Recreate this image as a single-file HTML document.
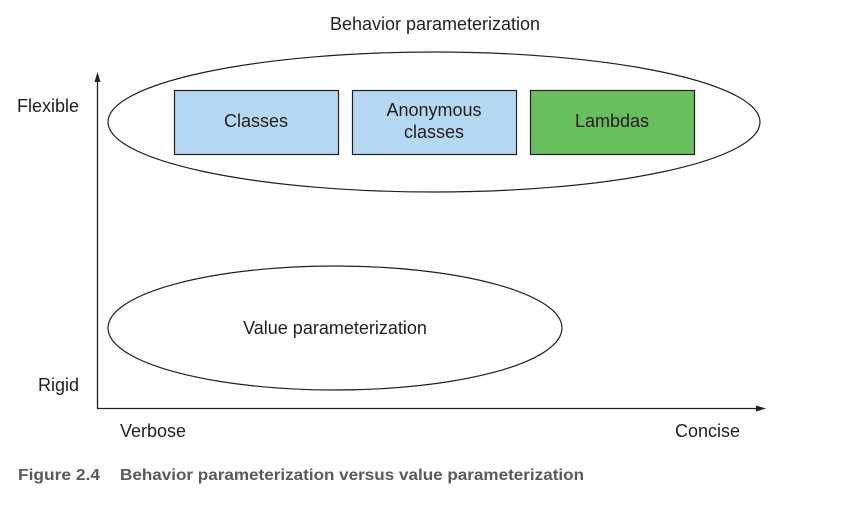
<!DOCTYPE html>
<html><head><meta charset="utf-8"><style>
html,body{margin:0;padding:0;background:#fff;}
svg{display:block;}
text{font-family:"Liberation Sans",sans-serif;fill:#231f20;}
</style></head><body>
<svg width="841" height="506" viewBox="0 0 841 506" xmlns="http://www.w3.org/2000/svg">
<text x="435" y="30" font-size="18" text-anchor="middle">Behavior parameterization</text>
<ellipse cx="434" cy="122" rx="326" ry="70" fill="none" stroke="#231f20" stroke-width="1.2"/>
<rect x="174.5" y="90.5" width="164" height="64" fill="#b4d8f1" stroke="#231f20" stroke-width="1.2"/>
<rect x="352.5" y="90.5" width="164" height="64" fill="#b4d8f1" stroke="#231f20" stroke-width="1.2"/>
<rect x="530.5" y="90.5" width="164" height="64" fill="#69bf5e" stroke="#231f20" stroke-width="1.2"/>
<text x="256" y="127" font-size="18" text-anchor="middle">Classes</text>
<text x="434" y="116" font-size="18" text-anchor="middle">Anonymous</text>
<text x="434" y="138" font-size="18" text-anchor="middle">classes</text>
<text x="612" y="127" font-size="18" text-anchor="middle">Lambdas</text>
<ellipse cx="335" cy="328" rx="227" ry="62" fill="none" stroke="#231f20" stroke-width="1.2"/>
<text x="335" y="334" font-size="18" text-anchor="middle">Value parameterization</text>
<line x1="97.5" y1="408.5" x2="97.5" y2="80" stroke="#231f20" stroke-width="1.3"/>
<polygon points="97.5,72 94.5,82 100.5,82" fill="#231f20"/>
<line x1="97" y1="408.5" x2="758" y2="408.5" stroke="#231f20" stroke-width="1.3"/>
<polygon points="766,408.5 756,405.5 756,411.5" fill="#231f20"/>
<text x="17" y="112" font-size="18">Flexible</text>
<text x="38" y="391" font-size="18">Rigid</text>
<text x="120" y="437" font-size="18">Verbose</text>
<text x="675" y="437" font-size="18">Concise</text>
<text x="18" y="480" font-size="16" font-weight="bold" textLength="82" lengthAdjust="spacingAndGlyphs" style="fill:#5a5a5a">Figure 2.4</text>
<text x="120" y="480" font-size="16" font-weight="bold" textLength="464" lengthAdjust="spacingAndGlyphs" style="fill:#5a5a5a">Behavior parameterization versus value parameterization</text>
</svg>
</body></html>
